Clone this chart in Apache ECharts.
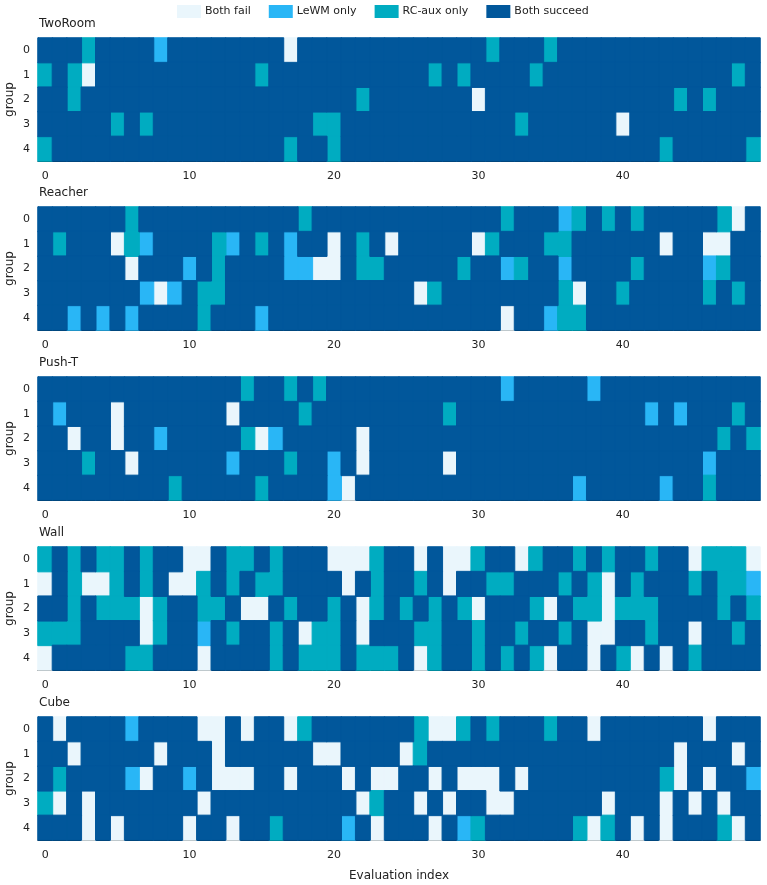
<!DOCTYPE html>
<html>
<head>
<meta charset="utf-8">
<script src="https://cdn.jsdelivr.net/npm/echarts@6/dist/echarts.min.js"></script>
<style>
  html, body { margin: 0; padding: 0; background: #fff; }
  #main { width: 767px; height: 885px; }
</style>
</head>
<body>
<div id="main"></div>
<script>
// outcome codes: 0 = both fail, 1 = LeWM only, 2 = RC-aux only, 3 = both succeed
var outcomeLabels = ['Both fail', 'LeWM only', 'RC-aux only', 'Both succeed'];
var outcomeColors = ['#eaf6fc', '#29b6f6', '#00acc1', '#01579b'];
var panelNames = ['TwoRoom', 'Reacher', 'Push-T', 'Wall', 'Cube'];
var groupLabels = ['0', '1', '2', '3', '4'];

var twoRoom = [
  [3,3,3,2,3,3,3,3,1,3, 3,3,3,3,3,3,3,0,3,3, 3,3,3,3,3,3,3,3,3,3, 3,2,3,3,3,2,3,3,3,3, 3,3,3,3,3,3,3,3,3,3],
  [2,3,2,0,3,3,3,3,3,3, 3,3,3,3,3,2,3,3,3,3, 3,3,3,3,3,3,3,2,3,2, 3,3,3,3,2,3,3,3,3,3, 3,3,3,3,3,3,3,3,2,3],
  [3,3,2,3,3,3,3,3,3,3, 3,3,3,3,3,3,3,3,3,3, 3,3,2,3,3,3,3,3,3,3, 0,3,3,3,3,3,3,3,3,3, 3,3,3,3,2,3,2,3,3,3],
  [3,3,3,3,3,2,3,2,3,3, 3,3,3,3,3,3,3,3,3,2, 2,3,3,3,3,3,3,3,3,3, 3,3,3,2,3,3,3,3,3,3, 0,3,3,3,3,3,3,3,3,3],
  [2,3,3,3,3,3,3,3,3,3, 3,3,3,3,3,3,3,2,3,3, 2,3,3,3,3,3,3,3,3,3, 3,3,3,3,3,3,3,3,3,3, 3,3,3,2,3,3,3,3,3,2]
];

var reacher = [
  [3,3,3,3,3,3,2,3,3,3, 3,3,3,3,3,3,3,3,2,3, 3,3,3,3,3,3,3,3,3,3, 3,3,2,3,3,3,1,2,3,2, 3,2,3,3,3,3,3,2,0,3],
  [3,2,3,3,3,0,2,1,3,3, 3,3,2,1,3,2,3,1,3,3, 0,3,2,3,0,3,3,3,3,3, 0,2,3,3,3,2,2,3,3,3, 3,3,3,0,3,3,0,0,3,3],
  [3,3,3,3,3,3,0,3,3,3, 1,3,2,3,3,3,3,1,1,0, 0,3,2,2,3,3,3,3,3,2, 3,3,1,2,3,3,1,3,3,3, 3,2,3,3,3,3,1,2,3,3],
  [3,3,3,3,3,3,3,1,0,1, 3,2,2,3,3,3,3,3,3,3, 3,3,3,3,3,3,0,2,3,3, 3,3,3,3,3,3,2,0,3,3, 2,3,3,3,3,3,2,3,2,3],
  [3,3,1,3,1,3,1,3,3,3, 3,2,3,3,3,1,3,3,3,3, 3,3,3,3,3,3,3,3,3,3, 3,3,0,3,3,1,2,2,3,3, 3,3,3,3,3,3,3,3,3,3]
];

var pushT = [
  [3,3,3,3,3,3,3,3,3,3, 3,3,3,3,2,3,3,2,3,2, 3,3,3,3,3,3,3,3,3,3, 3,3,1,3,3,3,3,3,1,3, 3,3,3,3,3,3,3,3,3,3],
  [3,1,3,3,3,0,3,3,3,3, 3,3,3,0,3,3,3,3,2,3, 3,3,3,3,3,3,3,3,2,3, 3,3,3,3,3,3,3,3,3,3, 3,3,1,3,1,3,3,3,2,3],
  [3,3,0,3,3,0,3,3,1,3, 3,3,3,3,2,0,1,3,3,3, 3,3,0,3,3,3,3,3,3,3, 3,3,3,3,3,3,3,3,3,3, 3,3,3,3,3,3,3,2,3,2],
  [3,3,3,2,3,3,0,3,3,3, 3,3,3,1,3,3,3,2,3,3, 1,3,0,3,3,3,3,3,0,3, 3,3,3,3,3,3,3,3,3,3, 3,3,3,3,3,3,1,3,3,3],
  [3,3,3,3,3,3,3,3,3,2, 3,3,3,3,3,2,3,3,3,3, 1,0,3,3,3,3,3,3,3,3, 3,3,3,3,3,3,3,1,3,3, 3,3,3,1,3,3,2,3,3,3]
];

var wall = [
  [2,3,2,3,2,2,3,2,3,3, 0,0,3,2,2,3,2,3,3,3, 0,0,0,2,3,3,0,3,0,0, 2,3,3,0,2,3,3,2,3,2, 3,3,2,3,3,0,2,2,2,0],
  [0,3,2,0,0,2,3,2,3,0, 0,2,3,2,3,2,2,3,3,3, 3,0,3,2,3,3,2,3,0,3, 3,2,2,3,3,3,2,3,2,0, 3,2,3,3,3,2,3,2,2,1],
  [3,3,2,3,2,2,2,0,2,3, 3,2,2,3,0,0,3,2,3,3, 2,3,0,2,3,2,3,2,3,2, 0,3,3,3,2,0,3,2,2,0, 2,2,2,3,3,3,3,2,3,2],
  [2,2,2,3,3,3,3,0,2,3, 3,1,3,2,3,3,2,3,0,2, 2,3,0,3,3,3,2,2,3,3, 2,3,3,2,3,3,2,3,0,0, 3,3,2,3,3,0,3,3,2,3],
  [0,3,3,3,3,3,2,2,3,3, 3,0,3,3,3,3,2,3,2,2, 2,3,2,2,2,3,0,2,3,3, 2,3,2,3,2,0,3,3,0,3, 2,0,3,0,3,2,3,3,3,3]
];

var cube = [
  [3,0,3,3,3,3,1,3,3,3, 3,0,0,3,0,3,3,0,2,3, 3,3,3,3,3,3,2,0,0,2, 3,2,3,3,3,2,3,3,0,3, 3,3,3,3,3,3,0,3,3,3],
  [3,3,0,3,3,3,3,3,0,3, 3,3,0,3,3,3,3,3,3,0, 0,3,3,3,3,0,2,3,3,3, 3,3,3,3,3,3,3,3,3,3, 3,3,3,3,0,3,3,3,0,3],
  [3,2,3,3,3,3,1,0,3,3, 1,3,0,0,0,3,3,0,3,3, 3,0,3,0,0,3,3,0,3,0, 0,0,3,0,3,3,3,3,3,3, 3,3,3,2,0,3,0,3,3,1],
  [2,0,3,0,3,3,3,3,3,3, 3,0,3,3,3,3,3,3,3,3, 3,3,0,2,3,3,0,3,0,3, 3,0,0,3,3,3,3,3,3,0, 3,3,3,0,3,0,3,0,3,3],
  [3,3,3,0,3,0,3,3,3,3, 0,3,3,0,3,3,2,3,3,3, 3,1,3,0,3,3,3,0,3,1, 2,3,3,3,3,3,3,2,0,2, 3,0,3,0,3,3,3,2,0,3]
];

var panels = [twoRoom, reacher, pushT, wall, cube];

(function () {
    var font = 'DejaVu Sans';
    var txt = '#222';
    var gridTops = [38, 207, 377, 547, 717];
    var gridH = 123;

    var nCols = panels[0][0].length;
    var evalIdx = [];
    for (var i = 0; i < nCols; i++) evalIdx.push(String(i));

    var every10 = function (idx) { return idx % 10 === 0; };

    var grids = [], xAxes = [], yAxes = [], titles = [], series = [];

    panels.forEach(function (rows, p) {
        var last = p === panels.length - 1;
        grids.push({ left: 38, right: 7, top: gridTops[p], height: gridH, containLabel: false, outerBoundsMode: 'none' });
        titles.push({
            text: panelNames[p], left: 34, top: gridTops[p] - 25,
            textStyle: { fontFamily: font, fontSize: 12, fontWeight: 'normal', color: txt }
        });
        xAxes.push({
            type: 'category', gridIndex: p, data: evalIdx,
            axisLine: { lineStyle: { color: '#000', width: 1 } },
            axisTick: { alignWithLabel: true, interval: every10, length: 4, lineStyle: { color: '#000' } },
            axisLabel: { interval: every10, fontFamily: font, fontSize: 11, color: txt, margin: 10 },
            splitLine: { show: false },
            name: last ? 'Evaluation index' : '',
            nameLocation: 'middle', nameGap: 30,
            nameTextStyle: { fontFamily: font, fontSize: 12, color: txt }
        });
        yAxes.push({
            type: 'category', gridIndex: p, data: groupLabels, inverse: true,
            axisLine: { lineStyle: { color: '#000', width: 1 } },
            axisTick: { alignWithLabel: true, length: 4, lineStyle: { color: '#000' } },
            axisLabel: { fontFamily: font, fontSize: 11, color: txt, margin: 8 },
            splitLine: { show: false },
            name: 'group', nameLocation: 'middle', nameGap: 22, nameRotate: 90,
            nameMoveOverlap: false,
            nameTextStyle: { fontFamily: font, fontSize: 12, color: txt }
        });

        // one heatmap series per outcome so the legend can name them
        outcomeLabels.forEach(function (lab, k) {
            var data = [];
            rows.forEach(function (row, r) {
                row.forEach(function (v, c) { if (v === k) data.push([c, r, v]); });
            });
            series.push({
                type: 'heatmap', name: lab, xAxisIndex: p, yAxisIndex: p, data: data,
                itemStyle: { color: outcomeColors[k], borderColor: outcomeColors[k], borderWidth: 1 },
                emphasis: { disabled: true }, progressive: 0, animation: false
            });
        });
    });

    var chart = echarts.init(document.getElementById('main'), null, { renderer: 'canvas' });
    chart.setOption({
        animation: false,
        backgroundColor: '#fff',
        color: outcomeColors,
        title: titles,
        grid: grids,
        xAxis: xAxes,
        yAxis: yAxes,
        legend: {
            data: outcomeLabels, left: 172, top: 0, orient: 'horizontal',
            icon: 'rect', itemWidth: 22, itemHeight: 11, itemGap: 18,
            selectedMode: false,
            textStyle: { fontFamily: font, fontSize: 11, color: txt }
        },
        series: series
    });
})();
</script>
</body>
</html>
